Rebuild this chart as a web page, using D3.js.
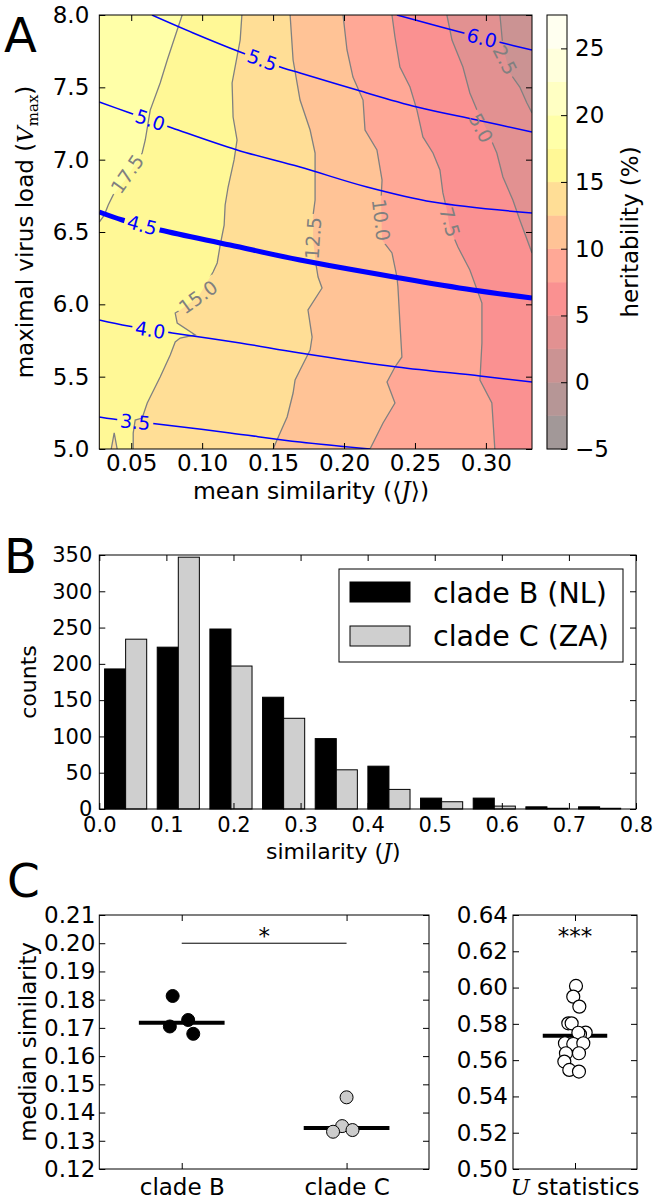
<!DOCTYPE html>
<html><head><meta charset="utf-8">
<script src="https://cdn.jsdelivr.net/npm/d3@7"></script>
<style>body{margin:0;background:#fff}svg{display:block}text{font-family:"DejaVu Sans",sans-serif}</style>
</head><body><svg id="c" width="661" height="1201"></svg>
<script>
// ---------------- DATA ----------------
// Panel A
const simTicksA = [0.05, 0.10, 0.15, 0.20, 0.25, 0.30];
const vmaxTicks = [5.0, 5.5, 6.0, 6.5, 7.0, 7.5, 8.0];
const heritLevels = [-5, -2.5, 0, 2.5, 5, 7.5, 10, 12.5, 15, 17.5, 20, 22.5, 25, 27.5];
const heritTicks = [-5, 0, 5, 10, 15, 20, 25];
const heritColors = ["#a29898", "#b69696", "#cb9393", "#e29191", "#fa9191", "#ffa896", "#ffc396",
                     "#ffde96", "#fff896", "#ffffa8", "#ffffc3", "#ffffdc", "#fffff0"];
// heritability contour lines (mean similarity J, Vmax)
const h175 = [[0.0859,8.0],[0.0824,7.896],[0.0754,7.689],[0.0704,7.530],[0.0634,7.343],[0.0599,7.136],[0.0577,7.046],[0.0458,6.859],[0.0373,6.756],[0.0338,6.687],[0.0310,6.617],[0.0275,6.569]];
const h150 = [[0.1280,8.0],[0.1268,7.827],[0.1232,7.640],[0.1211,7.530],[0.1218,7.295],[0.1246,7.136],[0.1225,6.998],[0.1183,6.811],[0.1162,6.687],[0.1155,6.548],[0.1127,6.410],[0.1106,6.286],[0.1077,6.223],[0.0972,6.051],[0.0845,5.961],[0.0810,5.940],[0.0824,5.871],[0.0951,5.788],[0.0845,5.767],[0.0810,5.740],[0.0775,5.650],[0.0704,5.498],[0.0613,5.318],[0.0577,5.214],[0.0528,5.200],[0.0514,5.111],[0.0514,5.0]];
const h150b = [[0.0359,5.0],[0.0380,5.111],[0.0401,5.0]];
const h125 = [[0.1620,8.0],[0.1641,7.689],[0.1690,7.412],[0.1761,7.205],[0.1796,7.046],[0.1796,6.721],[0.1782,6.617],[0.1782,6.445],[0.1803,6.272],[0.1817,6.189],[0.1845,6.113],[0.1746,5.961],[0.1775,5.774],[0.1761,5.684],[0.1690,5.546],[0.1655,5.477],[0.1641,5.387],[0.1599,5.221],[0.1549,5.111],[0.1500,5.0]];
const h100 = [[0.1993,8.0],[0.2021,7.758],[0.2063,7.571],[0.2134,7.412],[0.2148,7.205],[0.2232,7.067],[0.2268,6.859],[0.2261,6.721],[0.2268,6.445],[0.2338,6.355],[0.2373,6.189],[0.2380,6.120],[0.2394,5.871],[0.2408,5.636],[0.2359,5.567],[0.2303,5.463],[0.2359,5.318],[0.2275,5.180],[0.2183,5.0]];
const h075 = [[0.2338,8.0],[0.2359,7.848],[0.2394,7.640],[0.2465,7.502],[0.2514,7.343],[0.2556,7.157],[0.2627,7.046],[0.2676,6.929],[0.2697,6.770],[0.2725,6.652],[0.2746,6.528],[0.2803,6.396],[0.2887,6.237],[0.2972,6.009],[0.2972,5.733],[0.2958,5.477],[0.3042,5.318],[0.3063,5.0]];
const h050 = [[0.2725,8.0],[0.2761,7.827],[0.2838,7.640],[0.2887,7.461],[0.2937,7.343],[0.3007,7.205],[0.3077,7.046],[0.3120,6.880],[0.3190,6.721],[0.3239,6.583],[0.3325,6.355]];
const h025 = [[0.3099,8.0],[0.3120,7.779],[0.3169,7.599],[0.3239,7.502],[0.3289,7.392],[0.3325,7.323]];
const heritLabels = [
  {t:"17.5", j:0.0472, v:6.901, a:-55}, {t:"15.0", j:0.0972, v:6.051, a:-36},
  {t:"12.5", j:0.1782, v:6.458, a:-86}, {t:"10.0", j:0.2261, v:6.583, a:83},
  {t:"7.5",  j:0.2746, v:6.569, a:74},  {t:"5.0",  j:0.2965, v:7.219, a:63},
  {t:"2.5",  j:0.3134, v:7.689, a:63}];
// virus-load contour lines (blue)
const v60 = [[0.2373,8.0],[0.2606,7.938],[0.2817,7.882],[0.3120,7.806],[0.3325,7.758]];
const v55 = [[0.0646,8.0],[0.0937,7.876],[0.1268,7.744],[0.1570,7.634],[0.1690,7.599],[0.2092,7.481],[0.2514,7.364],[0.2937,7.274],[0.3325,7.191]];
const v50 = [[0.0275,7.399],[0.0472,7.329],[0.0789,7.219],[0.1246,7.067],[0.1690,6.949],[0.2162,6.811],[0.2627,6.707],[0.3325,6.631]];
const v45 = [[0.0275,6.638],[0.0437,6.583],[0.0704,6.514],[0.1197,6.410],[0.1690,6.306],[0.2394,6.182],[0.2908,6.099],[0.3325,6.044]];
const v40 = [[0.0275,5.892],[0.0479,5.850],[0.0789,5.802],[0.1268,5.733],[0.1690,5.664],[0.2373,5.567],[0.2958,5.505],[0.3325,5.463]];
const v35 = [[0.0275,5.221],[0.0373,5.207],[0.0683,5.173],[0.1197,5.111],[0.1690,5.048],[0.2183,5.0]];
const vLabels = [
  {t:"6.0", j:0.2972, v:7.841, a:14}, {t:"5.5", j:0.1423, v:7.689, a:20},
  {t:"5.0", j:0.0634, v:7.274, a:19}, {t:"4.5", j:0.0577, v:6.548, a:15},
  {t:"4.0", j:0.0634, v:5.823, a:9},  {t:"3.5", j:0.0528, v:5.187, a:6}];

// Panel B
const binStarts = [0.0, 0.0785, 0.157, 0.2355, 0.314, 0.3925, 0.471, 0.5495, 0.628, 0.7065];
const binWidth = 0.0785;
const countsB = [193, 223, 248, 154, 97, 59, 15, 15, 3, 3];
const countsC = [234, 347, 197, 125, 54, 27, 10, 4, 1, 1];
const simTicksB = [0.0, 0.1, 0.2, 0.3, 0.4, 0.5, 0.6, 0.7, 0.8];
const countTicks = [0, 50, 100, 150, 200, 250, 300, 350];
const legendNames = ["clade B (NL)", "clade C (ZA)"];

// Panel C
const cladeNames = ["clade B", "clade C"];
const cladeBx = [0.945, 1.039, 0.928, 1.070];
const cladeBy = [0.1813, 0.1728, 0.1705, 0.1679];
const cladeCx = [2.000, 1.973, 1.918, 2.036];
const cladeCy = [0.1454, 0.1352, 0.1332, 0.1338];
const cladeMedians = [0.1718, 0.1345];
const medTicks = [0.12, 0.13, 0.14, 0.15, 0.16, 0.17, 0.18, 0.19, 0.20, 0.21];
const uX = [1.008, 0.986, 1.035, 0.946, 0.973, 1.086, 1.040, 1.027, 0.919, 0.986, 1.067, 0.927, 1.032, 0.914, 0.954, 1.032];
const uY = [0.6009, 0.5950, 0.5895, 0.5803, 0.5803, 0.5752, 0.5742, 0.5751, 0.5693, 0.5689, 0.5693, 0.5638, 0.5638, 0.5592, 0.5546, 0.5537];
const uMedian = 0.5735;
const uTicks = [0.50, 0.52, 0.54, 0.56, 0.58, 0.60, 0.62, 0.64];

// ---------------- DRAWING ----------------
const svg = d3.select("#c");
svg.append("rect").attr("width", 661).attr("height", 1201).attr("fill", "#fff");
const defs = svg.append("defs");
const FONT = '"DejaVu Sans", sans-serif';

function styleAxis(g, size) {
  g.select(".domain").remove();
  g.attr("font-family", FONT).attr("font-size", size);
  g.selectAll(".tick line").attr("stroke", "#000").attr("stroke-width", 1);
  g.selectAll(".tick text").attr("fill", "#000");
}
function frame(g, l, t, r, b) {
  g.append("rect").attr("x", l).attr("y", t).attr("width", r - l).attr("height", b - t)
    .attr("fill", "none").attr("stroke", "#000").attr("stroke-width", 1);
}
function axes4(g, x, y, box, xt, yt, xf, yf, size, xpad, ypad, xlab = true) {
  g.append("g").attr("transform", `translate(${box.l},0)`)
    .call(d3.axisLeft(y).tickValues(yt).tickFormat(yf).tickSize(-6).tickSizeOuter(0).tickPadding(ypad))
    .call(s => styleAxis(s, size));
  g.append("g").attr("transform", `translate(${box.r},0)`)
    .call(d3.axisRight(y).tickValues(yt).tickFormat("").tickSize(-6).tickSizeOuter(0))
    .call(s => styleAxis(s, size));
  const bx = g.append("g").attr("transform", `translate(0,${box.b})`)
    .call(d3.axisBottom(x).tickValues(xt).tickFormat(xlab ? xf : "").tickSize(-6).tickSizeOuter(0).tickPadding(xpad))
    .call(s => styleAxis(s, size));
  g.append("g").attr("transform", `translate(0,${box.t})`)
    .call(d3.axisTop(x).tickValues(xt).tickFormat("").tickSize(-6).tickSizeOuter(0))
    .call(s => styleAxis(s, size));
  frame(g, box.l, box.t, box.r, box.b);
  return bx;
}

// ===== Panel A =====
const A = {l: 99.3, r: 532, t: 15, b: 449};
const xA = d3.scaleLinear().domain([0.0275, 0.3325]).range([A.l, A.r]);
const yA = d3.scaleLinear().domain([5, 8]).range([A.b, A.t]);
defs.append("clipPath").attr("id", "clipA").append("rect")
  .attr("x", A.l).attr("y", A.t).attr("width", A.r - A.l).attr("height", A.b - A.t);
const gA = svg.append("g");
const plotA = gA.append("g").attr("clip-path", "url(#clipA)");
const [J0, J1] = xA.domain(), [V0, V1] = yA.domain();
const bandColor = lv => heritColors[heritLevels.indexOf(lv)];
const lineA = d3.line().x(p => xA(p[0])).y(p => yA(p[1]));

function leftRegion(pts) {
  const out = pts.slice();
  const last = pts[pts.length - 1];
  if (last[0] >= J1 - 1e-6 && last[1] > V0) out.push([J1, V0]);
  if (last[0] > J0 + 1e-6) out.push([J0, V0]);
  out.push([J0, V1]);
  return out;
}
plotA.append("rect").attr("x", A.l).attr("y", A.t).attr("width", A.r - A.l).attr("height", A.b - A.t)
  .attr("fill", bandColor(0));
const heritContours = [[2.5, h025], [5, h050], [7.5, h075], [10, h100], [12.5, h125], [15, h150], [17.5, h175]];
heritContours.forEach(([lv, pts]) => {
  plotA.append("path").attr("d", lineA(leftRegion(pts)) + "Z").attr("fill", bandColor(lv));
});
plotA.append("path").attr("d", lineA(h150b) + "Z").attr("fill", bandColor(12.5));

// masks for inline labels
const mGray = defs.append("mask").attr("id", "mGray").attr("maskUnits", "userSpaceOnUse")
  .attr("x", 0).attr("y", 0).attr("width", 661).attr("height", 1201);
mGray.append("rect").attr("width", 661).attr("height", 1201).attr("fill", "#fff");
const mBlue = defs.append("mask").attr("id", "mBlue").attr("maskUnits", "userSpaceOnUse")
  .attr("x", 0).attr("y", 0).attr("width", 661).attr("height", 1201);
mBlue.append("rect").attr("width", 661).attr("height", 1201).attr("fill", "#fff");

const grayG = plotA.append("g").attr("mask", "url(#mGray)");
heritContours.forEach(([lv, pts]) => {
  grayG.append("path").attr("d", lineA(pts)).attr("fill", "none").attr("stroke", "#808080").attr("stroke-width", 1.3);
});
grayG.append("path").attr("d", lineA(h150b)).attr("fill", "none").attr("stroke", "#808080").attr("stroke-width", 1.3);

const blueLine = d3.line().x(p => xA(p[0])).y(p => yA(p[1])).curve(d3.curveCatmullRom);
const blueG = plotA.append("g").attr("mask", "url(#mBlue)");
[[3.5, v35], [4.0, v40], [4.5, v45], [5.0, v50], [5.5, v55], [6.0, v60]].forEach(([lv, pts]) => {
  blueG.append("path").attr("d", blueLine(pts)).attr("fill", "none").attr("stroke", "#0000ff")
    .attr("stroke-width", lv === 4.5 ? 5 : 1.5);
});

function addLabels(list, color, mask) {
  list.forEach(L => {
    const tr = `translate(${xA(L.j)},${yA(L.v)}) rotate(${L.a})`;
    const t = plotA.append("text").attr("transform", tr).attr("text-anchor", "middle")
      .attr("dy", "0.36em").attr("font-size", 19).attr("font-family", FONT).attr("fill", color).text(L.t);
    const bb = t.node().getBBox();
    mask.append("rect").attr("transform", tr).attr("x", bb.x - 3).attr("y", bb.y + 1)
      .attr("width", bb.width + 6).attr("height", bb.height - 2).attr("fill", "#000");
  });
}
addLabels(heritLabels, "#808080", mGray);
addLabels(vLabels, "#0000ff", mBlue);

axes4(gA, xA, yA, A, simTicksA, vmaxTicks, d3.format(".2f"), d3.format(".1f"), 23, 6, 10);

// colorbar
const CB = {l: 547, r: 567, t: 15, b: 449};
const yCb = d3.scaleLinear().domain([-5, 27.5]).range([CB.b, CB.t]);
heritColors.forEach((c, i) => {
  gA.append("rect").attr("x", CB.l).attr("width", CB.r - CB.l)
    .attr("y", yCb(heritLevels[i + 1])).attr("height", yCb(heritLevels[i]) - yCb(heritLevels[i + 1]))
    .attr("fill", c).attr("stroke", c).attr("stroke-width", 0.5);
});
gA.append("g").attr("transform", `translate(${CB.r},0)`)
  .call(d3.axisRight(yCb).tickValues(heritTicks).tickFormat(d => d < 0 ? "\u2212" + Math.abs(d) : d)
    .tickSize(-6).tickSizeOuter(0).tickPadding(8))
  .call(s => styleAxis(s, 23));
frame(gA, CB.l, CB.t, CB.r, CB.b);
gA.append("text").attr("transform", "translate(638,232) rotate(-90)").attr("text-anchor", "middle")
  .attr("font-size", 23).text("heritability (%)");

// A labels
const ylA = gA.append("text").attr("transform", "translate(33,232) rotate(-90)").attr("text-anchor", "middle").attr("font-size", 23);
ylA.append("tspan").text("maximal virus load (");
ylA.append("tspan").attr("font-family", "DejaVu Serif").attr("font-style", "italic").text("V");
ylA.append("tspan").attr("font-family", "DejaVu Serif").attr("font-size", 15).attr("dy", 5).text("max");
ylA.append("tspan").attr("dy", -5).text(")");
const xlA = gA.append("text").attr("x", 311).attr("y", 499).attr("text-anchor", "middle").attr("font-size", 23.5);
xlA.append("tspan").text("mean similarity (\u27E8");
xlA.append("tspan").attr("font-family", "DejaVu Serif").attr("font-style", "italic").text("J");
xlA.append("tspan").text("\u27E9)");
svg.append("text").attr("x", 4).attr("y", 52).attr("font-size", 48).text("A");

// ===== Panel B =====
const B = {l: 99.3, r: 636, t: 555, b: 809};
const xB = d3.scaleLinear().domain([0, 0.8]).range([B.l, B.r]);
const yB = d3.scaleLinear().domain([0, 350]).range([B.b, B.t]);
const gB = svg.append("g");
const barW = binWidth * 0.4;
binStarts.forEach((s, i) => {
  const x0 = s + binWidth * 0.1;
  gB.append("rect").attr("x", xB(x0)).attr("width", xB(x0 + barW) - xB(x0))
    .attr("y", yB(countsB[i])).attr("height", yB(0) - yB(countsB[i]))
    .attr("fill", "#000").attr("stroke", "#000").attr("stroke-width", 1);
  gB.append("rect").attr("x", xB(x0 + barW)).attr("width", xB(x0 + 2 * barW) - xB(x0 + barW))
    .attr("y", yB(countsC[i])).attr("height", yB(0) - yB(countsC[i]))
    .attr("fill", "#cfcfcf").attr("stroke", "#000").attr("stroke-width", 1);
});
axes4(gB, xB, yB, B, simTicksB, countTicks, d3.format(".1f"), d3.format("d"), 21, 8, 7);
// legend
const lg = gB.append("g");
lg.append("rect").attr("x", 339).attr("y", 569).attr("width", 284).attr("height", 93)
  .attr("fill", "#fff").attr("stroke", "#000").attr("stroke-width", 1);
[["#000", 582, 603], ["#cfcfcf", 626, 646]].forEach(([c, y, base], i) => {
  lg.append("rect").attr("x", 350).attr("y", y).attr("width", 60).attr("height", 20)
    .attr("fill", c).attr("stroke", "#000").attr("stroke-width", 1);
  lg.append("text").attr("x", 433).attr("y", base).attr("font-size", 28.5).text(legendNames[i]);
});
gB.append("text").attr("transform", "translate(36,682) rotate(-90)").attr("text-anchor", "middle")
  .attr("font-size", 22).text("counts");
const xlB = gB.append("text").attr("x", 266).attr("y", 859).attr("font-size", 22);
xlB.append("tspan").text("similarity  (");
xlB.append("tspan").attr("font-family", "DejaVu Serif").attr("font-style", "italic").text("J");
xlB.append("tspan").text(")");
svg.append("text").attr("x", 4).attr("y", 573).attr("font-size", 48).text("B");

// ===== Panel C (left) =====
const C = {l: 99.3, r: 429, t: 915, b: 1169};
const xC = d3.scaleLinear().domain([0.5, 2.5]).range([C.l, C.r]);
const yC = d3.scaleLinear().domain([0.12, 0.21]).range([C.b, C.t]);
const gC = svg.append("g");
axes4(gC, xC, yC, C, [1, 2], medTicks, d => cladeNames[d - 1], d3.format(".2f"), 23, 10, 4);
gC.append("line").attr("x1", xC(1)).attr("x2", xC(2)).attr("y1", yC(0.20)).attr("y2", yC(0.20))
  .attr("stroke", "#000").attr("stroke-width", 1);
gC.append("text").attr("x", xC(1.5)).attr("y", yC(0.20) + 1).attr("text-anchor", "middle").attr("font-size", 23).text("*");
cladeMedians.forEach((m, i) => {
  gC.append("line").attr("x1", xC(i + 1 - 0.26)).attr("x2", xC(i + 1 + 0.26)).attr("y1", yC(m)).attr("y2", yC(m))
    .attr("stroke", "#000").attr("stroke-width", 4);
});
cladeBx.forEach((x, i) => gC.append("circle").attr("cx", xC(x)).attr("cy", yC(cladeBy[i])).attr("r", 6.5)
  .attr("fill", "#000").attr("stroke", "#000"));
cladeCx.forEach((x, i) => gC.append("circle").attr("cx", xC(x)).attr("cy", yC(cladeCy[i])).attr("r", 6.5)
  .attr("fill", "#cccccc").attr("stroke", "#000").attr("stroke-width", 1));
gC.append("text").attr("transform", "translate(36,1042) rotate(-90)").attr("text-anchor", "middle")
  .attr("font-size", 23).text("median similarity");
svg.append("text").attr("x", 7).attr("y", 897).attr("font-size", 47).text("C");

// ===== Panel C (right) =====
const U = {l: 513, r: 637, t: 915, b: 1169};
const xU = d3.scaleLinear().domain([0.5, 1.5]).range([U.l, U.r]);
const yU = d3.scaleLinear().domain([0.50, 0.64]).range([U.b, U.t]);
const gU = svg.append("g");
axes4(gU, xU, yU, U, [1], uTicks, "", d3.format(".2f"), 23, 10, 5, false);
gU.append("line").attr("x1", xU(1 - 0.26)).attr("x2", xU(1 + 0.26)).attr("y1", yU(uMedian)).attr("y2", yU(uMedian))
  .attr("stroke", "#000").attr("stroke-width", 4);
uX.forEach((x, i) => gU.append("circle").attr("cx", xU(x)).attr("cy", yU(uY[i])).attr("r", 6.5)
  .attr("fill", "#fff").attr("stroke", "#000").attr("stroke-width", 1.2));
gU.append("text").attr("x", xU(1)).attr("y", C.t + 29).attr("text-anchor", "middle").attr("font-size", 23).text("***");
const ulab = gU.append("text").attr("x", xU(1)).attr("y", 1195).attr("text-anchor", "middle").attr("font-size", 23);
ulab.append("tspan").attr("font-family", "DejaVu Serif").attr("font-style", "italic").text("U");
ulab.append("tspan").text(" statistics");
</script></body></html>
